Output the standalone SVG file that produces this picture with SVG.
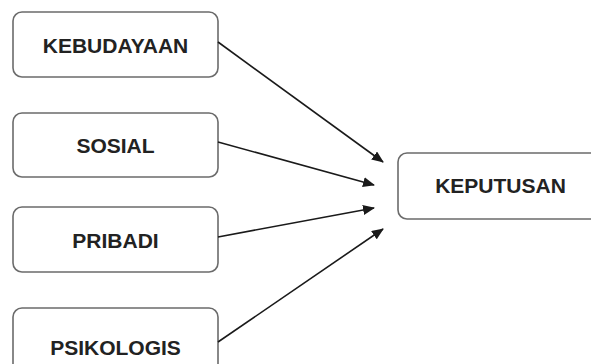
<svg xmlns="http://www.w3.org/2000/svg" width="591" height="364" viewBox="0 0 591 364">
  <defs>
    <marker id="arr" markerWidth="12" markerHeight="10" refX="11" refY="5" orient="auto" markerUnits="userSpaceOnUse">
      <path d="M0,0 L12,5 L0,10 Z" fill="#1a1a1a"/>
    </marker>
    <style>
      .box { fill: #ffffff; stroke: #6b6b6b; stroke-width: 1.6; }
      .lbl { font-family: "Liberation Sans", Arial, sans-serif; font-weight: bold; font-size: 21px; fill: #222222; text-anchor: middle; }
      .conn { stroke: #1a1a1a; stroke-width: 1.6; fill: none; marker-end: url(#arr); }
    </style>
  </defs>
  <rect width="591" height="364" fill="#ffffff"/>
  <g id="kebudayaan">
    <rect class="box" x="13" y="12" width="205" height="65" rx="9"/>
    <text class="lbl" x="115.5" y="53">KEBUDAYAAN</text>
  </g>
  <g id="sosial">
    <rect class="box" x="13" y="113" width="205" height="64" rx="9"/>
    <text class="lbl" x="115.5" y="153">SOSIAL</text>
  </g>
  <g id="pribadi">
    <rect class="box" x="13" y="207" width="205" height="65" rx="9"/>
    <text class="lbl" x="115.5" y="248">PRIBADI</text>
  </g>
  <g id="psikologis">
    <rect class="box" x="13" y="308" width="205" height="70" rx="9"/>
    <text class="lbl" x="115.5" y="355">PSIKOLOGIS</text>
  </g>
  <g id="keputusan">
    <rect class="box" x="398" y="153" width="205" height="66" rx="9"/>
    <text class="lbl" x="500.5" y="193">KEPUTUSAN</text>
  </g>
  <g id="connectors">
    <line class="conn" x1="218" y1="42" x2="383" y2="162"/>
    <line class="conn" x1="218" y1="142" x2="374" y2="185"/>
    <line class="conn" x1="218" y1="237" x2="374" y2="208"/>
    <line class="conn" x1="218" y1="342" x2="383" y2="229"/>
  </g>
</svg>
